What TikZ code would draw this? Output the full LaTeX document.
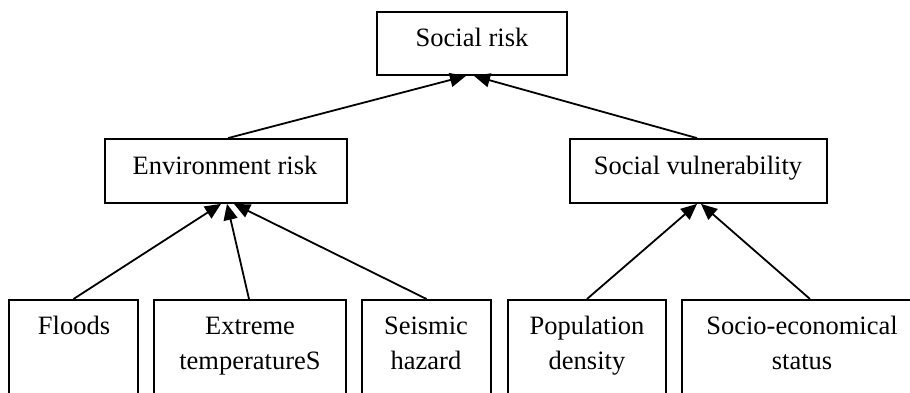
\documentclass[tikz,border=0pt]{standalone}
\usepackage{fontspec}
\setmainfont{Liberation Serif}
\usetikzlibrary{arrows.meta}
\begin{document}
\begin{tikzpicture}[x=1pt,y=1pt,
  box/.style={draw, line width=1.8pt, rectangle, inner sep=0pt},
  lbl/.style={font=\fontsize{26.5}{35}\selectfont, inner sep=0pt, anchor=base},
  conn/.style={line width=1.8pt, -{Triangle[length=16pt,width=14pt]}}]
\useasboundingbox (0,0) rectangle (910,393);
\clip (0,0) rectangle (910,393);
% top level boxes
\node[box, minimum width=190pt, minimum height=63pt] (sr) at (472,349.5) {};
\node[box, minimum width=242pt, minimum height=64pt] (er) at (226,222) {};
\node[box, minimum width=257pt, minimum height=64pt] (sv) at (698.5,222) {};
% bottom boxes (open below the picture edge)
\node[box, anchor=north, minimum width=129pt, minimum height=121pt] (f) at (73.5,94) {};
\node[box, anchor=north, minimum width=192pt, minimum height=121pt] (e) at (250,94) {};
\node[box, anchor=north, minimum width=129pt, minimum height=121pt] (s) at (426.5,94) {};
\node[box, anchor=north, minimum width=158pt, minimum height=121pt] (p) at (587,94) {};
\node[box, anchor=north, minimum width=258pt, minimum height=121pt] (so) at (811,94) {};
% labels
\node[lbl] (tsr) at (472,346) {Social risk};
\node[lbl] (ter) at (225,218) {Environment risk};
\node[lbl] (tsv) at (698,218) {Social vulnerability};
\node[lbl] (tf) at (74,58) {Floods};
\node[lbl] (te1) at (250,58) {Extreme};
\node[lbl] (te2) at (250,23) {temperatureS};
\node[lbl] (ts1) at (426,58) {Seismic};
\node[lbl] (ts2) at (426,23) {hazard};
\node[lbl] (tp1) at (587,58) {Population};
\node[lbl] (tp2) at (587,23) {density};
\node[lbl] (tso1) at (802,58) {Socio-economical};
\node[lbl] (tso2) at (802,23) {status};
% connectors
\draw[conn] ([xshift=2pt]er.north) -- ([xshift=-6pt]sr.south);
\draw[conn] ([xshift=-1.5pt]sv.north) -- ([xshift=2pt]sr.south);
\draw[conn] (f.north) -- ([xshift=-5pt]er.south);
\draw[conn] ([xshift=-1pt]e.north) -- ([xshift=1pt]er.south);
\draw[conn] (s.north) -- ([xshift=8pt]er.south);
\draw[conn] (p.north) -- ([xshift=-1.5pt]sv.south);
\draw[conn] ([xshift=-1pt]so.north) -- ([xshift=2.5pt]sv.south);
\end{tikzpicture}
\end{document}
